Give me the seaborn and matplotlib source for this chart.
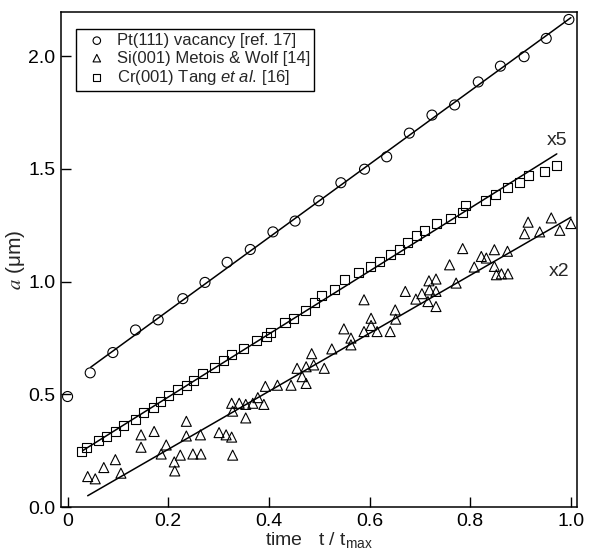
import pandas as pd
import seaborn as sns
import matplotlib.pyplot as plt

# Pt(111) vacancy [ref. 17]
pt_t = [0.0, 0.045, 0.09, 0.135, 0.18, 0.229, 0.273, 0.317, 0.363, 0.408, 0.452, 0.499,
        0.543, 0.59, 0.634, 0.679, 0.724, 0.769, 0.816, 0.86, 0.907, 0.951, 0.996]
pt_a = [0.49, 0.595, 0.685, 0.785, 0.83, 0.924, 0.996, 1.085, 1.142, 1.22, 1.268, 1.358,
        1.438, 1.498, 1.553, 1.658, 1.738, 1.783, 1.885, 1.955, 1.997, 2.078, 2.162]
pt_fit_t = [0.046, 1.0]
pt_fit_a = [0.62, 2.17]

# Si(001) Metois & Wolf [14]  (x2)
si_t = [0.04, 0.055, 0.072, 0.095, 0.106, 0.146, 0.146, 0.172, 0.186, 0.196, 0.212, 0.213,
        0.224, 0.236, 0.236, 0.249, 0.264, 0.265, 0.301, 0.315, 0.326, 0.328, 0.326, 0.328,
        0.341, 0.354, 0.354, 0.368, 0.378, 0.39, 0.393, 0.417, 0.444, 0.456, 0.466, 0.474,
        0.474, 0.485, 0.489, 0.51, 0.525, 0.549, 0.563, 0.563, 0.589, 0.589, 0.603, 0.603,
        0.615, 0.641, 0.651, 0.652, 0.671, 0.692, 0.704, 0.716, 0.719, 0.718, 0.732, 0.732,
        0.732, 0.759, 0.772, 0.785, 0.808, 0.822, 0.832, 0.848, 0.848, 0.852, 0.862, 0.875,
        0.874, 0.908, 0.915, 0.938, 0.961, 0.978, 1.0]
si_a = [0.135, 0.125, 0.175, 0.21, 0.15, 0.32, 0.265, 0.335, 0.235, 0.275, 0.2, 0.16,
        0.23, 0.38, 0.315, 0.235, 0.32, 0.235, 0.33, 0.32, 0.31, 0.23, 0.46, 0.425,
        0.46, 0.455, 0.395, 0.46, 0.485, 0.455, 0.535, 0.54, 0.54, 0.615, 0.578, 0.548,
        0.622, 0.68, 0.63, 0.615, 0.701, 0.79, 0.749, 0.719, 0.778, 0.919, 0.837, 0.805,
        0.778, 0.778, 0.874, 0.833, 0.956, 0.922, 0.946, 0.911, 0.963, 1.003, 1.011, 0.956,
        0.889, 1.074, 0.993, 1.146, 1.064, 1.111, 1.104, 1.141, 1.067, 1.03, 1.034, 1.034,
        1.134, 1.212, 1.263, 1.22, 1.282, 1.227, 1.257]
si_fit_t = [0.04, 1.0]
si_fit_a = [0.05, 1.285]

# Cr(001) Tang et al. [16]  (x5)
cr_t = [0.028, 0.038, 0.062, 0.078, 0.095, 0.111, 0.134, 0.151, 0.170, 0.185, 0.200, 0.219,
        0.236, 0.250, 0.269, 0.292, 0.309, 0.325, 0.350, 0.376, 0.396, 0.404, 0.432, 0.448,
        0.472, 0.490, 0.504, 0.531, 0.551, 0.578, 0.602, 0.619, 0.642, 0.659, 0.676, 0.693,
        0.710, 0.733, 0.760, 0.784, 0.791, 0.831, 0.850, 0.875, 0.898, 0.915, 0.948, 0.971]
cr_a = [0.245, 0.262, 0.293, 0.312, 0.336, 0.36, 0.388, 0.42, 0.443, 0.468, 0.493, 0.52,
        0.538, 0.562, 0.592, 0.62, 0.648, 0.676, 0.703, 0.737, 0.757, 0.772, 0.818, 0.838,
        0.872, 0.905, 0.936, 0.966, 1.01, 1.04, 1.067, 1.088, 1.12, 1.142, 1.172, 1.202,
        1.228, 1.258, 1.28, 1.307, 1.337, 1.358, 1.388, 1.415, 1.438, 1.468, 1.49, 1.513]
cr_fit_t = [0.03, 0.972]
cr_fit_a = [0.25, 1.566]

xticks = [0, 0.2, 0.4, 0.6, 0.8, 1.0]
xtick_labels = ['0', '0.2', '0.4', '0.6', '0.8', '1.0']
yticks = [0.0, 0.5, 1.0, 1.5, 2.0]
ytick_labels = ['0.0', '0.5', '1.0', '1.5', '2.0']

sns.set_style('ticks')
plt.rcParams['font.family'] = ['Liberation Sans', 'DejaVu Sans']
plt.rcParams['mathtext.fontset'] = 'custom'
plt.rcParams['mathtext.rm'] = 'Liberation Sans'
plt.rcParams['mathtext.it'] = 'Liberation Sans:italic'

fig = plt.figure(figsize=(5.93, 5.52), dpi=100)
ax = fig.add_axes([0.1029, 0.0815, 0.870, 0.8967])

open_kw = dict(facecolor='none', edgecolor='black', linewidth=0.8, ax=ax)
sns.scatterplot(x=pt_t, y=pt_a, marker='o', s=52, label='Pt(111) vacancy [ref. 17]', **open_kw)
sns.scatterplot(x=si_t, y=si_a, marker='^', s=52, label='Si(001) Metois & Wolf [14]', **open_kw)
sns.scatterplot(x=cr_t, y=cr_a, marker='s', s=42, label=r'Cr(001) Tang $\it{et\ al.}\,$[16]', **open_kw)

# fitted lines
for ft, fa in [(pt_fit_t, pt_fit_a), (si_fit_t, si_fit_a), (cr_fit_t, cr_fit_a)]:
    sns.lineplot(x=ft, y=fa, color='black', linewidth=1.1, ax=ax)

ax.text(0.973, 1.625, 'x5', ha='center', va='center', fontsize=14)
ax.text(0.976, 1.045, 'x2', ha='center', va='center', fontsize=14)

ax.set_xlim(-0.013, 1.012)
ax.set_ylim(0, 2.195)
ax.set_xticks(xticks)
ax.set_xticklabels(xtick_labels)
ax.set_yticks(yticks)
ax.set_yticklabels(ytick_labels)
ax.tick_params(direction='in', length=7, width=1, labelsize=14, colors='black', pad=4)
for sp in ax.spines.values():
    sp.set_color('black')
    sp.set_linewidth(1.1)

ax.set_xlabel(r'time   t / t$_\mathregular{max}$', fontsize=14, labelpad=0)
ax.set_ylabel(r'$a$ (μm)', fontsize=15, math_fontfamily='stix', labelpad=1)

leg = ax.legend(loc='upper left', bbox_to_anchor=(0.029, 0.966), borderaxespad=0,
                frameon=True, fancybox=False, edgecolor='black', framealpha=1,
                fontsize=12, markerscale=0.75, handlelength=2.0, handletextpad=0.2,
                borderpad=0.25, labelspacing=0.15)
leg.get_frame().set_linewidth(1.0)

plt.savefig('out.png', dpi=100)
